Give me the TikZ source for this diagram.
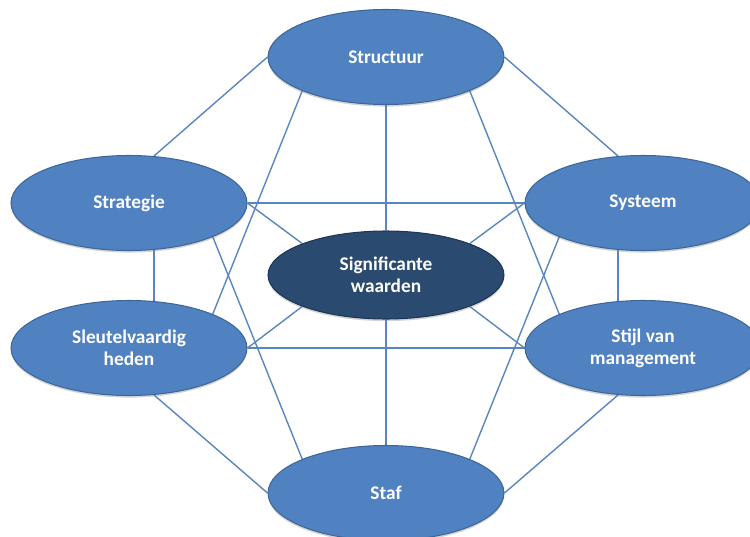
\documentclass[tikz,border=0pt]{standalone}
\usepackage{fontspec}
\setmainfont{Carlito}
\usetikzlibrary{shapes.geometric,shadows,backgrounds}

\definecolor{elemblue}{HTML}{5082C2}
\definecolor{elemedge}{HTML}{3D6698}
\definecolor{kernblue}{HTML}{2B4A70}
\definecolor{kernedge}{HTML}{1E3655}
\definecolor{linkblue}{HTML}{5A86C0}

\begin{document}
\begin{tikzpicture}[
    x=0.02cm, y=-0.02cm,
    elem/.style={ellipse, draw=elemedge, fill=elemblue, line width=0.6pt,
      minimum width=4.72cm, minimum height=1.9cm, inner sep=0pt,
      text=white, align=center, font=\fontsize{11}{12.5}\selectfont\bfseries,
      drop shadow={opacity=0.35, shadow xshift=0pt, shadow yshift=-1.2pt}},
    kern/.style={elem, fill=kernblue, draw=kernedge, minimum height=1.76cm},
    link/.style={draw=linkblue, line width=0.8pt}
  ]
  \useasboundingbox (0,0) rectangle (750,537);

  % de zeven S-en
  \node[elem] (structuur) at (386,57)  {Structuur};
  \node[elem] (strategie) at (129,203) {Strategie};
  \node[elem] (systeem)   at (643,203) {Systeem};
  \node[elem] (sleutel)   at (129,348) {Sleutelvaardig\\heden};
  \node[elem] (stijl)     at (643,348) {Stijl van\\management};
  \node[elem] (staf)      at (386,493) {Staf};
  \node[kern] (kern)      at (386,275) {Significante\\waarden};

  \begin{scope}[on background layer]
    % buitenring
    \draw[link] (structuur.west) -- (strategie.62);
    \draw[link] (structuur.east) -- (systeem.118);
    \draw[link] (strategie.-62) -- (sleutel.62);
    \draw[link] (systeem.-118) -- (stijl.118);
    \draw[link] (sleutel.-62) -- (staf.west);
    \draw[link] (stijl.-118) -- (staf.east);
    % koorden
    \draw[link] (structuur.south west) -- (sleutel.north east);
    \draw[link] (structuur.south east) -- (stijl.north west);
    \draw[link] (strategie.south east) -- (staf.north west);
    \draw[link] (systeem.south west) -- (staf.north east);
    \draw[link] (strategie.east) -- (systeem.west);
    \draw[link] (sleutel.east) -- (stijl.west);
    % spaken naar het midden
    \draw[link] (structuur.south) -- (kern.north);
    \draw[link] (staf.north) -- (kern.south);
    \draw[link] (strategie.east) -- (kern.north west);
    \draw[link] (sleutel.east) -- (kern.south west);
    \draw[link] (systeem.west) -- (kern.north east);
    \draw[link] (stijl.west) -- (kern.south east);
  \end{scope}
\end{tikzpicture}
\end{document}
